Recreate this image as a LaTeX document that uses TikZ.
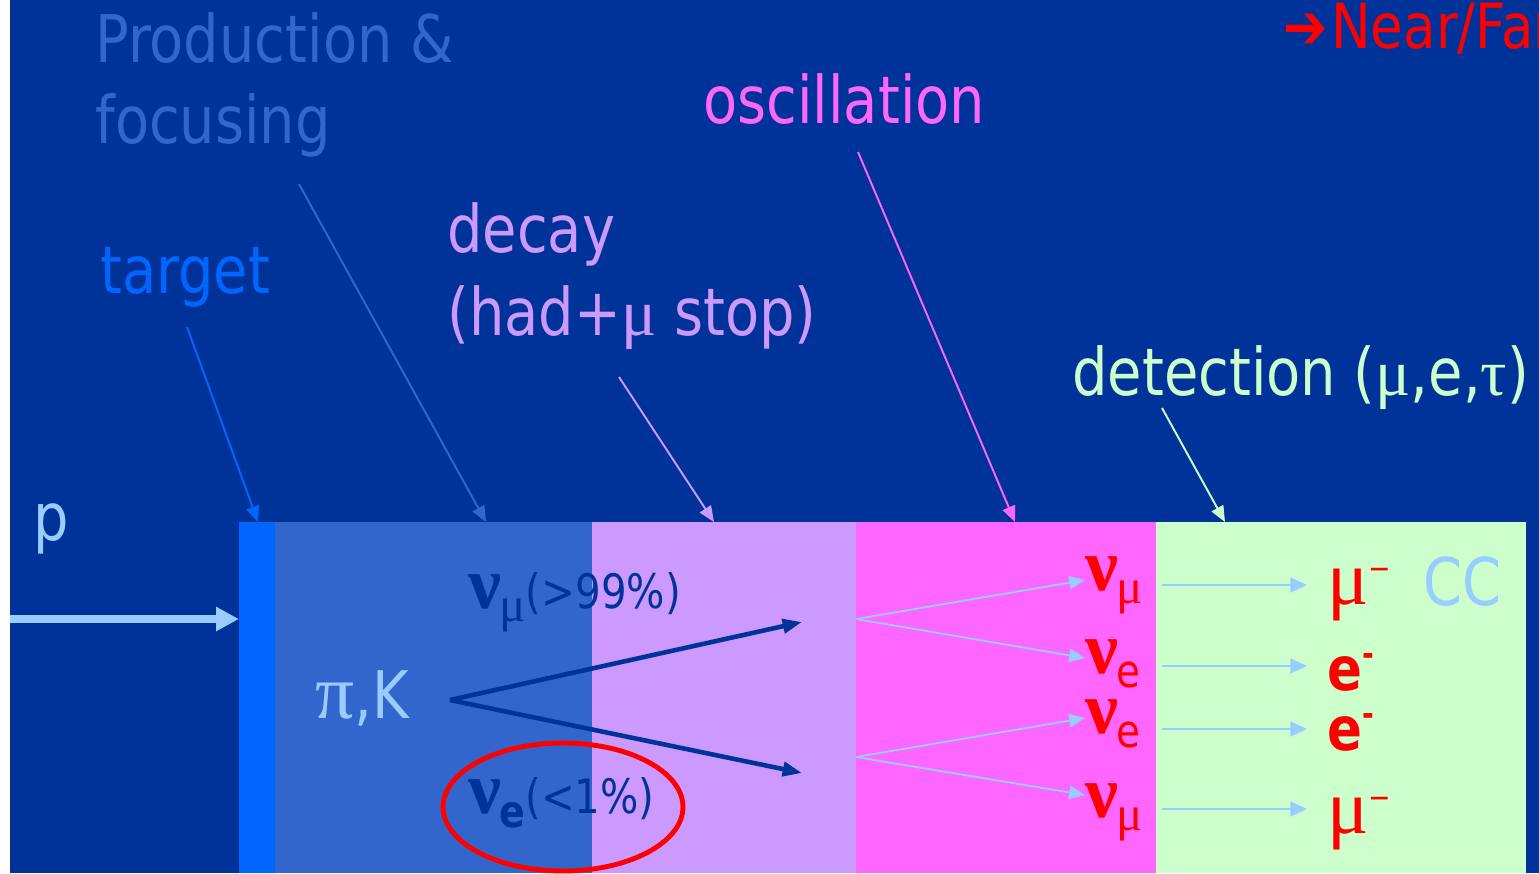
\documentclass[tikz,border=0pt]{standalone}
\usepackage{fontspec}
\setmainfont{DejaVu Sans}[FakeStretch=0.85]
\newfontfamily\grk{Liberation Serif}
\usetikzlibrary{arrows.meta}

\definecolor{bgblue}{HTML}{003399}
\definecolor{tgtblue}{HTML}{0066FF}
\definecolor{prodblue}{HTML}{3366CC}
\definecolor{decayviolet}{HTML}{CC99FF}
\definecolor{oscpink}{HTML}{FF66FF}
\definecolor{detgreen}{HTML}{CCFFCC}
\definecolor{beamblue}{HTML}{99CCFF}
\definecolor{nured}{HTML}{FF0000}

\newcommand\bigfont{\fontsize{37.4}{46}\selectfont}
\newcommand\nearfont{\fontsize{35.5}{42}\selectfont}
\newcommand\fracfont{\fontsize{27}{32}\selectfont}
\newcommand\nusym{{\grk\bfseries\fontsize{42}{42}\selectfont ν}\kern-1pt}
\newcommand\submu{\raisebox{-7.5pt}{\grk\fontsize{28}{28}\selectfont μ}}
\newcommand\sube{\raisebox{-8pt}{\fontsize{26}{26}\selectfont e}}
\newcommand\subeb{\raisebox{-8.5pt}{\bfseries\fontsize{25.5}{28}\selectfont e}}
\newcommand\muminus{{\grk\fontsize{44}{44}\selectfont μ}\raisebox{14pt}{\fontsize{18}{18}\selectfont −}}
\newcommand\eminus{{\bfseries\fontsize{34.5}{36}\selectfont e}\raisebox{14pt}{\bfseries\fontsize{19}{19}\selectfont -}}

\begin{document}
\begin{tikzpicture}[
    x=0.02cm, y=-0.02cm,
    every node/.style={inner sep=0pt, anchor=base west},
    >={Triangle[length=9pt, width=7.5pt]},
    pointer/.style={->, line width=1.1pt},
    fan/.style={->, beamblue, line width=1pt},
    tag/.style={font=\bigfont}
]

% Parameters
\def\boxtop{522}
\def\boxbot{873}

% === Background ===
\useasboundingbox (0,0) rectangle (1539,873);
\clip (0,0) rectangle (1539,873);
\fill[white] (0,0) rectangle (10,873);
\fill[bgblue] (10,0) rectangle (1539,873);

% === Stages along the beam line ===
\fill[tgtblue] (239,\boxtop) rectangle (275,\boxbot);
\fill[prodblue] (275,\boxtop) rectangle (592,\boxbot);
\fill[decayviolet] (592,\boxtop) rectangle (856,\boxbot);
\fill[oscpink] (856,\boxtop) rectangle (1156,\boxbot);
\fill[detgreen] (1156,\boxtop) rectangle (1526,\boxbot);

% === Stage labels ===
\node[tag, text=prodblue] (prodA) at (95,62) {Production \&};
\node[tag, text=prodblue] (prodB) at (95,143) {focusing};
\node[tag, text=tgtblue] (tgt) at (100,293) {target};
\node[tag, text=decayviolet] (decA) at (447,252) {decay};
\node[tag, text=decayviolet] (decB) at (447,335) {(had+{\grk μ} stop)};
\node[tag, text=oscpink] (osc) at (703,123) {oscillation};
\node[tag, text=detgreen] (det) at (1072,395) {detection ({\grk μ},e,{\grk τ})};
\node[font=\nearfont, text=nured] (near) at (1283,48) {➔\kern2pt Near/Far};

% Pointers from labels to stages
\coordinate (tgtFrom) at (187,327);
\coordinate (tgtTo) at (258,\boxtop);
\coordinate (prodFrom) at (299,184);
\coordinate (prodTo) at (486,\boxtop);
\coordinate (decFrom) at (619,377);
\coordinate (decTo) at (714,\boxtop);
\coordinate (oscFrom) at (858,152);
\coordinate (oscTo) at (1015,\boxtop);
\coordinate (detFrom) at (1162,408);
\coordinate (detTo) at (1225,\boxtop);

\draw[pointer, tgtblue] (tgtFrom) -- (tgtTo);
\draw[pointer, prodblue] (prodFrom) -- (prodTo);
\draw[pointer, decayviolet] (decFrom) -- (decTo);
\draw[pointer, oscpink] (oscFrom) -- (oscTo);
\draw[pointer, detgreen] (detFrom) -- (detTo);

% === Proton beam ===
\node[tag, text=beamblue] (p) at (33,540) {p};
\coordinate (beamFrom) at (10,619);
\coordinate (beamTo) at (239,619);
\draw[-{Triangle[length=13pt, width=13pt]}, beamblue, line width=5pt]
    (beamFrom) -- (beamTo);

% === Meson decay ===
\node[tag, text=beamblue] (pik) at (315,718) {{\grk\fontsize{44}{44}\selectfont π},K};
\coordinate (pkFrom) at (450,700);
\coordinate (numuTo) at (802,622);
\coordinate (nueTo) at (802,773);
\draw[-{Triangle[length=11pt, width=8pt]}, bgblue, line width=2.6pt] (pkFrom) -- (numuTo);
\draw[-{Triangle[length=11pt, width=8pt]}, bgblue, line width=2.6pt] (pkFrom) -- (nueTo);

\node[text=bgblue] (numuFrac) at (468,608) {\nusym\submu\fracfont(>99\%)};
\node[text=bgblue] (nueFrac) at (468,813) {\nusym\subeb\fracfont(<1\%)};

% === Oscillation ===
\coordinate (fanA) at (856,619);
\coordinate (fanB) at (856,757);
\coordinate (oscNumuA) at (1085,580);
\coordinate (oscNueA) at (1085,658);
\coordinate (oscNueB) at (1085,718);
\coordinate (oscNumuB) at (1085,795);
\draw[fan] (fanA) -- (oscNumuA);
\draw[fan] (fanA) -- (oscNueA);
\draw[fan] (fanB) -- (oscNueB);
\draw[fan] (fanB) -- (oscNumuB);

\node[text=nured] (redNumuA) at (1085,590) {\nusym\submu};
\node[text=nured] (redNueA) at (1085,673) {\nusym\sube};
\node[text=nured] (redNueB) at (1085,733) {\nusym\sube};
\node[text=nured] (redNumuB) at (1085,817) {\nusym\submu};

% === Detection ===
\foreach \y/\n in {585/a, 666/b, 729/c, 809/d} {
    \coordinate (ccFrom\n) at (1162,\y);
    \coordinate (ccTo\n) at (1307,\y);
    \draw[fan, -{Triangle[length=9.5pt, width=8.5pt]}] (ccFrom\n) -- (ccTo\n);
}

\node[text=nured] (muA) at (1327,604) {\muminus};
\node[text=nured] (eA) at (1327,690) {\eminus};
\node[text=nured] (eB) at (1327,750) {\eminus};
\node[text=nured] (muB) at (1327,833) {\muminus};
\node[tag, text=beamblue] (cc) at (1423,605) {CC};

% Highlight on the electron neutrino fraction
\draw[nured, line width=2.8pt] (563,807) ellipse [x radius=2.4cm, y radius=1.28cm];

\end{tikzpicture}
\end{document}
